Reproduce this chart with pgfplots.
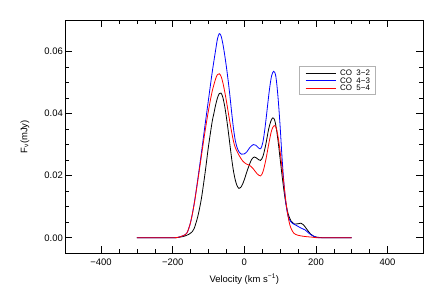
\documentclass[border=0pt]{standalone}
\usepackage{fontspec}
\setmainfont{Liberation Sans}
\usepackage{pgfplots}
\pgfplotsset{compat=1.18}
\definecolor{nearblack}{rgb}{0.03,0.03,0.03}
\definecolor{legblue}{rgb}{0.02,0.02,0.99}
\definecolor{legred}{rgb}{0.99,0.02,0.02}
\begin{document}
\begin{tikzpicture}
\useasboundingbox (-65.3bp,-41.7bp) rectangle (377.7bp,253.3bp);
\begin{axis}[
  at={(0,0)}, anchor=south west,
  scale only axis, width=358bp, height=233bp,
  xmin=-500, xmax=500, ymin=-0.005, ymax=0.070,
  scaled y ticks=false, scaled x ticks=false,
  xtick={-400,-200,0,200,400},
  xticklabels={−400,−200,0,200,400},
  ytick={0,0.02,0.04,0.06},
  yticklabels={0.00,0.02,0.04,0.06},
  minor x tick num=3, minor y tick num=3,
  major tick length=7bp, minor tick length=4bp,
  tick style={black, line width=0.6bp},
  axis line style={line width=0.7bp},
  tick label style={font=\fontsize{9.5}{10}\selectfont},
  yticklabel style={xshift=1bp},
  xticklabel style={yshift=-2bp},
  every axis x label/.style={at={(axis description cs:0.5,0)}, anchor=center, yshift=-26bp, font=\fontsize{9.5}{10}\selectfont},
  every axis y label/.style={at={(axis description cs:-0.1125,0.5)}, anchor=center, rotate=90, font=\fontsize{9.5}{10}\selectfont},
  xlabel={Velocity (km s\textsuperscript{−1})},
  ylabel={F\textsubscript{ν}(mJy)},
  every axis plot/.append style={line width=0.8bp, smooth, tension=0.5},
]
% CO 3-2
\addplot[black] coordinates {
(-300,0) (-200,0) (-180,0.0002) (-165,0.0006) (-155,0.0011) (-145,0.0020) (-140,0.0030) (-130,0.0068) (-120,0.0125) (-110,0.0205) (-105,0.0250) (-100,0.0295) (-90,0.0372) (-85,0.0400) (-80,0.0428) (-75,0.0450) (-70,0.0464) (-65,0.0466) (-60,0.0452) (-55,0.0425) (-50,0.0388) (-45,0.0345) (-40,0.0298) (-35,0.0252) (-30,0.0213) (-25,0.0185) (-20,0.0167) (-15,0.0159) (-10,0.0162) (-5,0.0172) (0,0.0187) (10,0.0222) (20,0.0251) (28,0.0260) (36,0.0255) (45,0.0249) (52,0.0262) (60,0.0300) (68,0.0350) (75,0.0378) (80,0.0386) (85,0.0378) (90,0.0348) (95,0.0305) (100,0.0255) (105,0.0205) (110,0.0158) (115,0.0118) (120,0.0088) (125,0.0068) (130,0.0055) (140,0.0044) (150,0.0045) (158,0.0047) (165,0.0042) (175,0.0027) (185,0.0012) (195,0.0004) (210,0.0001) (230,0) (300,0)
};
% CO 4-3
\addplot[blue] coordinates {
(-300,0) (-200,0) (-180,0.0003) (-170,0.0007) (-160,0.0016) (-150,0.0050) (-140,0.0110) (-130,0.0188) (-120,0.0272) (-110,0.0360) (-100,0.0445) (-90,0.0530) (-80,0.0605) (-75,0.0640) (-70,0.0657) (-65,0.0650) (-60,0.0625) (-55,0.0590) (-50,0.0550) (-45,0.0505) (-40,0.0455) (-35,0.0400) (-30,0.0350) (-25,0.0312) (-20,0.0290) (-15,0.0277) (-8,0.0269) (0,0.0270) (8,0.0278) (15,0.0290) (25,0.0300) (32,0.0298) (40,0.0289) (46,0.0287) (52,0.0308) (58,0.0355) (64,0.0415) (70,0.0475) (76,0.0520) (82,0.0536) (88,0.0520) (94,0.0455) (100,0.0360) (105,0.0265) (110,0.0185) (115,0.0122) (120,0.0082) (125,0.0060) (135,0.0046) (145,0.0040) (157,0.0032) (170,0.0025) (180,0.0015) (190,0.0007) (200,0.0002) (215,0) (300,0)
};
% CO 5-4
\addplot[red] coordinates {
(-300,0) (-200,0) (-180,0.0003) (-170,0.0007) (-160,0.0016) (-150,0.0050) (-140,0.0108) (-130,0.0183) (-120,0.0262) (-110,0.0340) (-100,0.0410) (-90,0.0470) (-80,0.0512) (-75,0.0525) (-70,0.0528) (-65,0.0520) (-60,0.0500) (-55,0.0472) (-50,0.0440) (-45,0.0405) (-40,0.0370) (-35,0.0338) (-30,0.0310) (-25,0.0290) (-15,0.0266) (-5,0.0248) (5,0.0238) (15,0.0233) (25,0.0222) (35,0.0207) (45,0.0199) (52,0.0212) (60,0.0250) (68,0.0300) (75,0.0340) (80,0.0356) (85,0.0361) (90,0.0350) (95,0.0320) (100,0.0278) (105,0.0230) (110,0.0180) (115,0.0128) (120,0.0085) (125,0.0052) (130,0.0032) (138,0.0015) (150,0.0008) (170,0.0004) (190,0.0002) (210,0) (300,0)
};
% legend
\draw[gray!60, line width=0.6bp, fill=white] (axis cs:152.5,0.05516) rectangle (axis cs:364.8,0.04626);
\draw[draw=nearblack, line width=0.9bp] (axis cs:171,0.05303) -- (axis cs:255,0.05303);
\draw[draw=legblue, line width=0.9bp] (axis cs:171,0.05065) -- (axis cs:255,0.05065);
\draw[draw=legred, line width=0.9bp] (axis cs:171,0.04819) -- (axis cs:255,0.04819);
\node[anchor=west, inner sep=0pt, font=\fontsize{8}{8}\selectfont] at (axis cs:267,0.05303) {CO\ \ 3−2};
\node[anchor=west, inner sep=0pt, font=\fontsize{8}{8}\selectfont] at (axis cs:267,0.05065) {CO\ \ 4−3};
\node[anchor=west, inner sep=0pt, font=\fontsize{8}{8}\selectfont] at (axis cs:267,0.04819) {CO\ \ 5−4};
\end{axis}
\end{tikzpicture}
\end{document}
